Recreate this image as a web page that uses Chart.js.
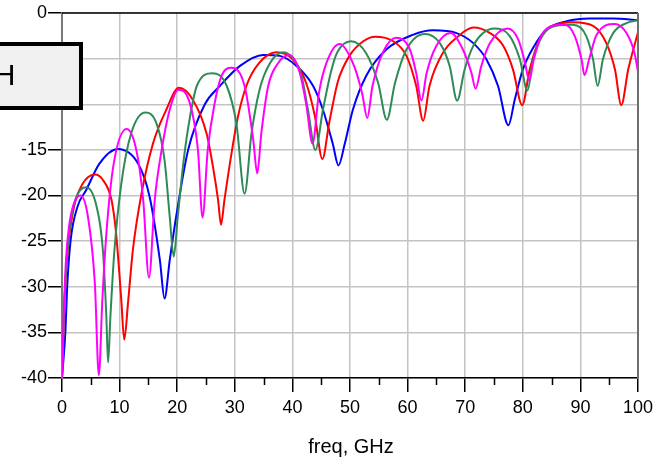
<!DOCTYPE html>
<html>
<head>
<meta charset="utf-8">
<script src="https://cdn.jsdelivr.net/npm/chart.js@4/dist/chart.umd.min.js"></script>
<style>
  body { margin: 0; background: #fff; }
  #wrap { width: 666px; height: 458px; position: relative; }
</style>
</head>
<body>
<div id="wrap"><canvas id="chart"></canvas></div>
<script>
const xTicks = [0, 10, 20, 30, 40, 50, 60, 70, 80, 90, 100];
const yTicks = [0, -5, -10, -15, -20, -25, -30, -35, -40];

const blueFreq = [0, 0.6, 0.9, 1.5, 2.7, 4.2, 6.5, 9.7, 13.2, 15.2, 17.0, 17.8, 18.7, 19.9, 21.9, 24.8, 27.4, 30.9, 34.9, 37.8, 40.7, 43.6, 45.3, 47.0, 48.0, 49.1, 50.5, 52.8, 56.3, 60.9, 64.4, 68.5, 71.4, 73.7, 75.7, 77.5, 78.6, 80.0, 81.8, 84.1, 87.6, 91.6, 95.7, 100];
const blueDb = [-40, -34.8, -30, -24.9, -21.2, -19.4, -16.5, -14.9, -16.5, -20.1, -27.1, -31.3, -27.1, -22.0, -15.0, -10.0, -8.0, -5.8, -4.6, -4.7, -5.8, -8.0, -10.6, -14.3, -16.7, -14.3, -10.6, -6.9, -4.0, -2.4, -1.9, -2.2, -3.3, -5.1, -8.0, -12.3, -9.5, -6.2, -3.8, -1.8, -0.9, -0.6, -0.6, -0.8];

const redFreq = [0, 0.4, 1, 2, 3.5, 5.7, 7.1, 8.6, 9.4, 10.3, 10.8, 11.5, 12.3, 13.8, 15.8, 18.1, 20.3, 22.7, 25.1, 26.2, 27.1, 27.6, 28.2, 29.4, 30.5, 32.0, 34.2, 37.2, 40.1, 42.4, 43.9, 45.2, 46.4, 47.9, 49.9, 52.3, 54.4, 57.5, 59.8, 61.5, 62.7, 63.8, 66.1, 68.9, 71.4, 74.3, 76.6, 78.3, 79.9, 81.2, 82.9, 85.2, 88.7, 92.2, 94.5, 96.0, 97.1, 98.3, 100];
const redDb = [-40, -32, -26, -21.5, -18.8, -17.7, -18.3, -20.5, -24.2, -31.5, -35.8, -31.5, -26.0, -19.8, -14.3, -10.6, -8.2, -9.5, -13.2, -16.8, -20.5, -23.2, -20.5, -15.5, -11.5, -8.0, -5.5, -4.3, -5.1, -7.7, -11.3, -16.0, -12.0, -7.5, -4.7, -3.1, -2.6, -3.1, -4.7, -8.0, -11.8, -8.0, -4.4, -2.5, -1.6, -2.2, -3.6, -6.2, -10.1, -6.2, -2.9, -1.4, -1.0, -1.4, -3.3, -6.2, -10.1, -6.2, -2.1];

const greenFreq = [0, 0.4, 0.9, 1.6, 2.6, 4.2, 6.0, 7.1, 7.7, 8.0, 8.4, 9.1, 10.3, 12.0, 14.5, 16.4, 17.8, 18.7, 19.4, 20.1, 21.0, 21.8, 23.4, 26.1, 28.6, 30.3, 31.7, 32.9, 34.3, 36.1, 38.4, 40.5, 41.6, 42.7, 44.0, 45.3, 46.8, 47.8, 50.2, 52.8, 54.9, 56.4, 57.8, 59.8, 63.0, 65.6, 67.3, 68.6, 69.9, 71.4, 73.1, 75.1, 77.7, 79.5, 80.8, 81.8, 83.5, 85.8, 88.7, 91.0, 92.2, 93.0, 93.9, 95.7, 98.0, 100];
const greenDb = [-40, -32, -26.5, -22.5, -20, -19.1, -21.2, -26, -33.3, -38.3, -33.3, -26, -18.7, -13.2, -10.9, -12.1, -16.1, -22.3, -26.7, -22.3, -16.8, -13, -8.0, -6.6, -8.0, -12.2, -19.8, -13.2, -8.4, -5.5, -4.3, -5.3, -6.9, -10.6, -15.0, -10.6, -6.2, -4.3, -3.1, -4.4, -7.7, -11.7, -7.7, -4.0, -2.3, -3.3, -5.8, -9.6, -6.2, -3.6, -2.2, -1.7, -2.5, -5.1, -8.5, -5.1, -2.4, -1.4, -1.3, -2.5, -5.1, -8.0, -5.1, -2.2, -1.1, -0.8];

const magentaFreq = [0, 0.3, 0.7, 1.2, 2, 3.2, 4.5, 5.7, 6.4, 7.0, 7.7, 8.9, 11.2, 12.9, 14.1, 15.1, 16.1, 17.3, 18.7, 20.2, 22.2, 23.6, 24.4, 25.3, 26.5, 27.7, 29.4, 31.7, 33.2, 33.9, 34.6, 35.8, 37.5, 39.5, 41.3, 42.4, 43.5, 44.6, 45.9, 48.2, 50.7, 52.1, 53.0, 53.9, 55.8, 58.0, 60.4, 61.5, 62.4, 63.3, 65.0, 67.5, 69.6, 71.1, 71.8, 72.8, 74.3, 77.4, 79.2, 80.4, 81.1, 81.9, 83.2, 85.2, 87.3, 89.0, 90.2, 90.7, 91.5, 92.8, 96.0, 98.0, 99.4, 100];
const magentaDb = [-40, -33, -27, -23.5, -21, -20.0, -22.3, -29.6, -39.7, -31.5, -24.2, -16.8, -12.7, -15.0, -20.5, -29.0, -20.5, -15.0, -10.6, -8.4, -9.9, -15.0, -22.4, -15.0, -9.9, -6.9, -6.0, -8.0, -13.9, -17.6, -13.2, -8.0, -5.5, -4.6, -6.6, -10.0, -14.3, -8.8, -5.5, -3.4, -5.8, -8.8, -11.5, -8.0, -4.2, -2.7, -4.0, -6.6, -9.6, -6.6, -3.6, -2.2, -4.0, -6.6, -8.3, -5.8, -3.3, -1.7, -2.9, -5.5, -7.4, -5.1, -2.5, -1.4, -1.3, -2.5, -5.1, -6.8, -5.1, -2.4, -1.2, -2.2, -4.4, -6.4];

const legendText = 'H';
const xTitle = 'freq, GHz';

const FONT = '"Liberation Sans", Arial, Helvetica, sans-serif';

function toPoints(freq, db) {
  return freq.map((f, i) => ({ x: f, y: db[i] }));
}

function line(label, color, freq, db) {
  return {
    label: label,
    data: toPoints(freq, db),
    borderColor: color,
    backgroundColor: color,
    borderWidth: 2,
    pointRadius: 0,
    cubicInterpolationMode: 'monotone',
    fill: false,
  };
}

const isMajor = (v) => xTicks.includes(v);

// frame, short minor ticks, cut-off legend box and axis title drawn by hand
const extras = {
  id: 'extras',
  afterDraw(chart) {
    const ctx = chart.ctx;
    const a = chart.chartArea;
    const xs = chart.scales.x;
    ctx.save();
    ctx.strokeStyle = '#000';
    ctx.lineWidth = 1.5;
    ctx.beginPath();
    ctx.moveTo(a.left, a.top);
    ctx.lineTo(a.right, a.top);
    ctx.stroke();

    ctx.lineWidth = 1.5;
    ctx.beginPath();
    xs.ticks.forEach((t) => {
      if (isMajor(t.value)) return;
      const px = Math.round(xs.getPixelForValue(t.value)) + 0.5;
      ctx.moveTo(px, a.bottom);
      ctx.lineTo(px, a.bottom + 7);
    });
    ctx.stroke();

    ctx.strokeStyle = '#6e6e6e';
    ctx.lineWidth = 2;
    ctx.beginPath();
    ctx.moveTo(a.right, a.top);
    ctx.lineTo(a.right, a.bottom);
    ctx.stroke();

    ctx.fillStyle = '#f0f0f0';
    ctx.fillRect(-20, 44, 101, 64);
    ctx.strokeStyle = '#000';
    ctx.lineWidth = 4;
    ctx.strokeRect(-20, 44, 101, 64);
    ctx.fillStyle = '#000';
    ctx.font = '30px ' + FONT;
    ctx.textAlign = 'right';
    ctx.textBaseline = 'alphabetic';
    ctx.fillText(legendText, 15.5, 85);

    ctx.font = '20px ' + FONT;
    ctx.textAlign = 'center';
    ctx.fillText(xTitle, (a.left + a.right) / 2 + 1, 453);
    ctx.restore();
  }
};

new Chart(document.getElementById('chart'), {
  type: 'line',
  data: {
    datasets: [
      line('magenta', '#ff00ff', magentaFreq, magentaDb),
      line('green', '#2e8b57', greenFreq, greenDb),
      line('red', '#ff0000', redFreq, redDb),
      line('blue', '#0000ff', blueFreq, blueDb),
    ],
  },
  options: {
    responsive: true,
    maintainAspectRatio: false,
    animation: false,
    events: [],
    layout: { padding: { top: 13, right: 28, left: 0, bottom: 0 } },
    plugins: { legend: { display: false }, tooltip: { enabled: false } },
    scales: {
      x: {
        type: 'linear',
        min: 0,
        max: 100,
        afterFit: (s) => { s.height = 80; },
        afterBuildTicks: (s) => {
          const t = [];
          for (const v of xTicks) {
            t.push({ value: v });
            if (v < 100) t.push({ value: v + 5 });
          }
          s.ticks = t;
        },
        ticks: {
          autoSkip: false,
          maxRotation: 0,
          color: '#000',
          padding: 5,
          font: { family: FONT, size: 18 },
          callback: (v) => (isMajor(v) ? String(v) : ''),
        },
        grid: {
          color: (c) => (c.tick && isMajor(c.tick.value) ? '#c4c4c4' : 'rgba(0,0,0,0)'),
          lineWidth: 1.5,
          tickColor: (c) => (c.tick && isMajor(c.tick.value) ? '#000' : 'rgba(0,0,0,0)'),
          tickLength: 14,
        },
        border: { color: '#000', width: 1.5 },
      },
      y: {
        min: -40,
        max: 0,
        afterFit: (s) => { s.width = 62; },
        afterBuildTicks: (s) => { s.ticks = yTicks.map((v) => ({ value: v })); },
        ticks: {
          color: '#000',
          padding: 1,
          font: { family: FONT, size: 18 },
          callback: (v) => String(v),
        },
        grid: {
          color: '#c4c4c4',
          lineWidth: 1.5,
          tickColor: '#000',
          tickLength: 14,
        },
        border: { color: '#7a7a7a', width: 2 },
      },
    },
  },
  plugins: [extras],
});
</script>
</body>
</html>
